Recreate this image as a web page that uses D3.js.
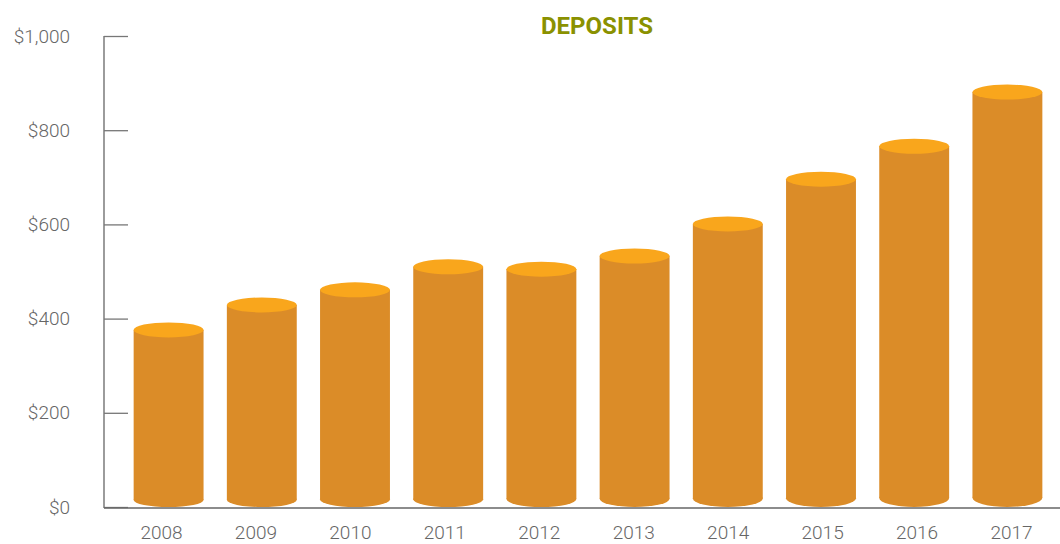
<!DOCTYPE html>
<html><head><meta charset="utf-8">
<script src="https://cdn.jsdelivr.net/npm/d3@7/dist/d3.min.js"></script>
<style>body{margin:0;background:#fff}svg{display:block}</style>
</head><body>
<svg id="c" width="1060" height="544"></svg>
<script>
const years = ["2008","2009","2010","2011","2012","2013","2014","2015","2016","2017"];
const deposits = [376, 429, 461, 510, 505, 533, 601, 696, 766, 881];
const yTicks = [0, 200, 400, 600, 800, 1000];
const title = "DEPOSITS";

const svg = d3.select("#c");
const y = d3.scaleLinear().domain([0, 1000]).range([507, 36]);
const x = d3.scaleBand().domain(years).range([122, 1054]).paddingInner(0.25).paddingOuter(0.125);
const xLab = d3.scalePoint().domain(years).range([161, 1011]);

const fmt = d => "$" + d3.format(",")(d);

// y axis
const ya = svg.append("g").attr("transform", "translate(104,0)")
  .call(d3.axisRight(y).tickValues(yTicks).tickSize(24).tickFormat(""));
ya.select(".domain").attr("stroke", "#666").attr("stroke-width", 1.3).attr("d", "M0,36V508");
ya.selectAll(".tick line").attr("stroke", "#777").attr("stroke-width", 1.3);
svg.append("g").selectAll("text").data(yTicks).join("text")
  .attr("x", 70).attr("y", d => y(d)).attr("dy", "0.35em")
  .attr("text-anchor", "end").attr("font-family", "Roboto, sans-serif").attr("font-weight", 300)
  .attr("font-size", 19).attr("fill", "#666").text(fmt);

// bars (cylinders)
const topRy = 7.5;
const g = svg.append("g");
years.forEach((yr, i) => {
  const v = deposits[i];
  const cx = x(yr) + x.bandwidth() / 2;
  const rx = x.bandwidth() / 2;
  const ty = y(v);
  const bRy = 7 + i * 0.25;
  const by = y(0) - bRy;
  g.append("ellipse").attr("cx", cx).attr("cy", by).attr("rx", rx).attr("ry", bRy).attr("fill", "#db8c28");
  g.append("rect").attr("x", cx - rx).attr("y", ty).attr("width", 2 * rx).attr("height", by - ty).attr("fill", "#db8c28");
  g.append("ellipse").attr("cx", cx).attr("cy", ty).attr("rx", rx).attr("ry", topRy).attr("fill", "#f9a61c");
});

// x axis
svg.append("line").attr("x1", 104).attr("x2", 1060).attr("y1", 508).attr("y2", 508)
  .attr("stroke", "#666").attr("stroke-width", 1.5);
const xa = svg.append("g").attr("transform", "translate(0,508)")
  .call(d3.axisBottom(xLab).tickSize(0).tickPadding(18));
xa.select(".domain").remove();
xa.selectAll("text").attr("font-family", "Roboto, sans-serif").attr("font-weight", 300)
  .attr("font-size", 19).attr("fill", "#666");

svg.append("text").attr("x", 597).attr("y", 34).attr("text-anchor", "middle")
  .attr("font-family", "Roboto, sans-serif").attr("font-weight", "bold")
  .attr("font-size", 24).attr("fill", "#8a9100").text(title);
</script>
</body></html>
